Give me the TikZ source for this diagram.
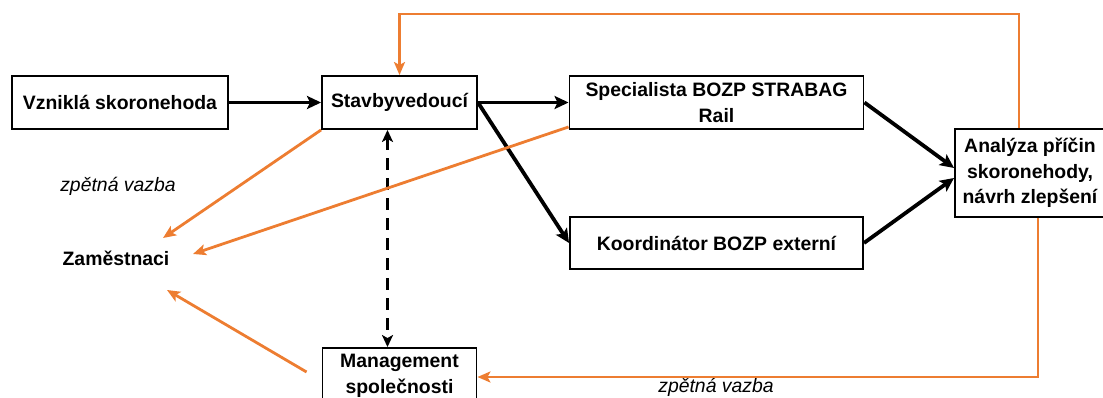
\documentclass[tikz,border=0pt]{standalone}
\usepackage{fontspec}
\setmainfont{Liberation Sans}
\usetikzlibrary{arrows.meta}

\definecolor{vazba}{RGB}{237,125,49}

\begin{document}
\begin{tikzpicture}[x=1pt, y=-1pt, >=Stealth,
    every node/.style={font=\fontsize{19.4}{25}\selectfont},
    box/.style={draw, line width=1.9pt, align=center, inner sep=0pt,
        font=\fontsize{19.4}{25.5}\selectfont\bfseries},
    tok/.style={line width=3.8pt, -{Stealth[length=14pt, width=13pt, inset=3pt]}},
    fb/.style={vazba, line width=2.8pt, -{Stealth[length=13pt, width=11pt, inset=3pt]}}]
    \useasboundingbox (0,0) rectangle (1103,398);

    % Uzly
    \node[box, minimum width=216pt, minimum height=53pt] (vznik) at (120,102.5) {Vzniklá skoronehoda};
    \node[box, minimum width=155pt, minimum height=53pt] (stavby) at (399.5,102.5) {Stavbyvedoucí};
    \node[box, minimum width=294pt, minimum height=53pt] (spec) at (716.5,102.5) {Specialista BOZP STRABAG\\Rail};
    \node[box, minimum width=293pt, minimum height=52pt] (koord) at (716.5,243) {Koordinátor BOZP externí};
    \node[box, minimum width=150pt, minimum height=88pt] (anal) at (1030,173) {Analýza příčin\\skoronehody,\\návrh zlepšení};
    \node[box, minimum width=154pt, minimum height=56pt] (mgmt) at (399.5,376) {Management\\společnosti};
    \node[font=\fontsize{19.4}{25}\selectfont\bfseries] (zam) at (116,258) {Zaměstnaci};

    % Zpetna vazba
    \node (fb1) at (118,186) {\itshape zpětná vazba};
    \node (fb2) at (716,387) {\itshape zpětná vazba};

    % Pomocne body
    \coordinate (top) at (0,14);
    \coordinate (bot) at (0,377);
    \coordinate (z1) at (163,238);
    \coordinate (z2) at (193,254);
    \coordinate (z3) at (167,290);

    % Tok informaci
    \draw[tok] (vznik) -- (stavby);
    \draw[tok] (stavby) -- (spec);
    \draw[tok] (stavby.east) -- (koord.west);
    \draw[tok] (spec.east) -- ([yshift=5pt]anal.west);
    \draw[tok] (koord.east) -- ([yshift=-5pt]anal.west);
    \draw[line width=3.4pt, dash pattern=on 12pt off 8pt,
        {Stealth[length=12pt, width=11pt, inset=3pt]}-{Stealth[length=12pt, width=11pt, inset=3pt]}]
        ([xshift=-12pt]stavby.south) -- ([xshift=-12pt]mgmt.north);

    % Zpetne vazby
    \draw[fb] ([xshift=-11pt]anal.north) |- (stavby.north |- top) -- (stavby.north);
    \draw[fb] ([xshift=8pt]anal.south) |- (mgmt.east |- bot);
    \draw[fb] (stavby.south west) -- (z1);
    \draw[fb] ([yshift=3pt]spec.south west) -- (z2);
    \draw[fb] ([xshift=-15pt, yshift=4pt]mgmt.west) -- (z3);
\end{tikzpicture}
\end{document}
